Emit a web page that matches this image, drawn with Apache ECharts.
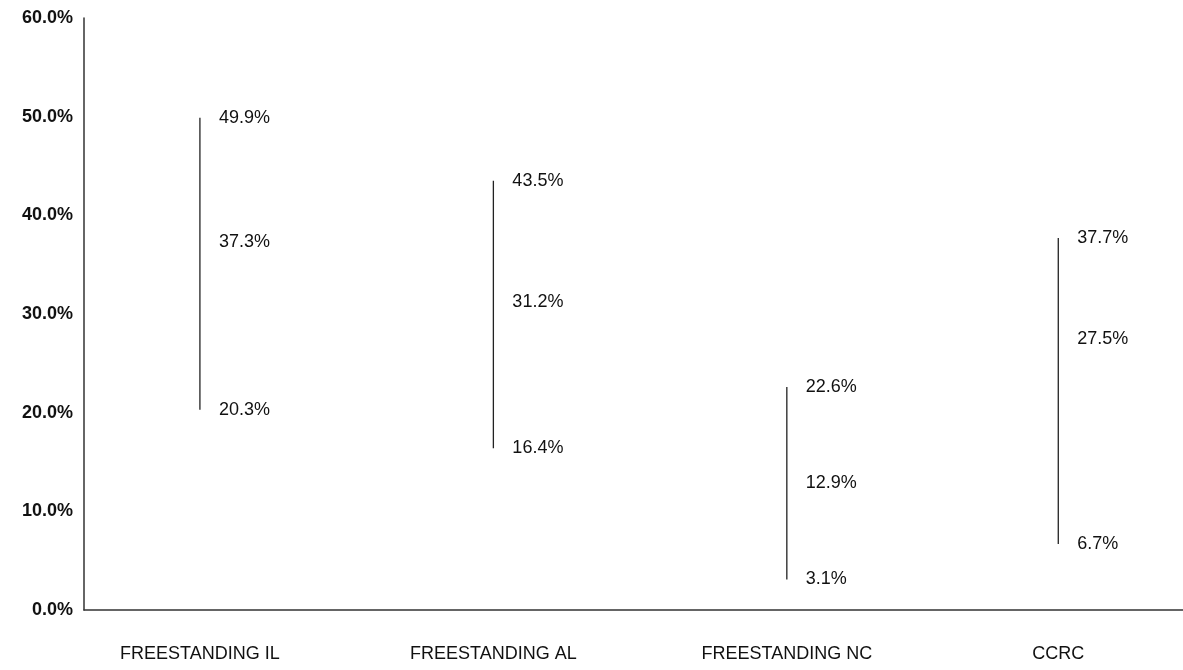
<!DOCTYPE html>
<html>
<head>
<meta charset="utf-8">
<script src="https://cdn.jsdelivr.net/npm/echarts@6/dist/echarts.min.js"></script>
<style>html,body{margin:0;padding:0;background:#fff;}#c{width:1183px;height:670px;}</style>
</head>
<body>
<div id="c"></div>
<script>
const categories = ['FREESTANDING IL', 'FREESTANDING AL', 'FREESTANDING NC', 'CCRC'];
const highValues = [49.9, 43.5, 22.6, 37.7];
const midValues = [37.3, 31.2, 12.9, 27.5];
const lowValues = [20.3, 16.4, 3.1, 6.7];
const yTicks = [0, 10, 20, 30, 40, 50, 60];

const FONT = '"Liberation Sans", Arial, Helvetica, sans-serif';
// category bands are one unit wide; the right edge of the plot cuts the last band,
// and that group is centred in the visible part of its band (as in the source chart)
const X_MIN = -0.395, X_MAX = 3.35;
const bandCenter = i => ((i - 0.5) + Math.min(i + 0.5, X_MAX)) / 2;
const catPos = categories.map((c, i) => bandCenter(i));
const rangeData = categories.map((c, i) => [catPos[i], lowValues[i], midValues[i], highValues[i]]);

const chart = echarts.init(document.getElementById('c'));
chart.setOption({
  animation: false,
  backgroundColor: '#fff',
  grid: { left: 84, right: 0, top: 18, bottom: 60, outerBoundsMode: 'none' },
  xAxis: {
    type: 'value', min: X_MIN, max: X_MAX,
    axisLine: { show: true, onZero: false, lineStyle: { color: '#333', width: 1.5 } },
    axisTick: { show: false }, splitLine: { show: false },
    axisLabel: { color: '#111', fontSize: 18, fontFamily: FONT, margin: 35, hideOverlap: false,
      customValues: catPos,
      formatter: v => {
        let best = 0;
        catPos.forEach((p, i) => { if (Math.abs(p - v) < Math.abs(catPos[best] - v)) best = i; });
        return categories[best];
      } }
  },
  yAxis: {
    type: 'value', min: yTicks[0], max: yTicks[yTicks.length - 1], interval: 10,
    axisLine: { show: true, onZero: false, lineStyle: { color: '#333', width: 1.5 } }, axisTick: { show: false },
    splitLine: { show: false },
    axisLabel: { color: '#111', fontSize: 18, fontWeight: 'bold', fontFamily: FONT, margin: 11,
      formatter: v => v.toFixed(1) + '%' }
  },
  series: [{
    type: 'custom',
    data: rangeData,
    encode: { x: 0, y: [1, 2, 3] },
    renderItem: function (params, api) {
      const x = api.value(0);
      const lo = api.coord([x, api.value(1)]);
      const mid = api.coord([x, api.value(2)]);
      const hi = api.coord([x, api.value(3)]);
      const mk = (p, v) => ({
        type: 'text',
        style: { text: v.toFixed(1) + '%', x: p[0] + 19, y: p[1], verticalAlign: 'middle', align: 'left',
          fill: '#111', font: '18px ' + FONT }
      });
      return {
        type: 'group',
        children: [
          { type: 'line', shape: { x1: lo[0], y1: lo[1], x2: hi[0], y2: hi[1] },
            style: { stroke: '#222', lineWidth: 1.3 } },
          mk(hi, api.value(3)),
          mk(mid, api.value(2)),
          mk(lo, api.value(1))
        ]
      };
    }
  }]
});
</script>
</body>
</html>
